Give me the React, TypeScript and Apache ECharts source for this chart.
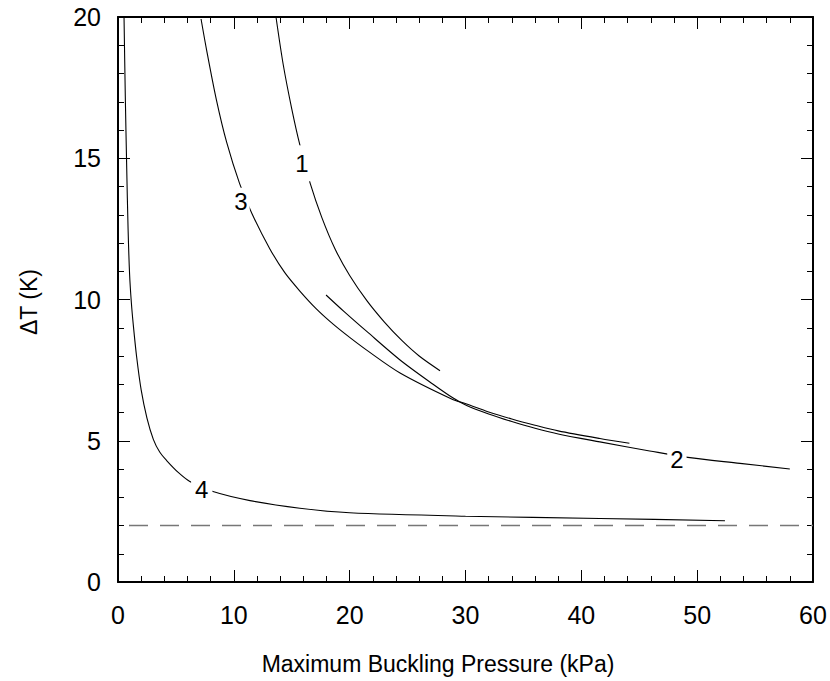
import React, { useEffect, useRef } from "react";
import * as echarts from "echarts";

const xTicks = [0, 10, 20, 30, 40, 50, 60];
const yTicks = [0, 5, 10, 15, 20];

const curve1: number[][] = [
  [13.64, 20], [14.27, 18.3], [15.0, 16.75], [15.7, 15.47], [16.6, 14.1], [17.6, 12.9],
  [18.75, 11.78], [20.0, 10.85], [21.5, 9.95], [23.0, 9.2], [24.5, 8.55], [26.0, 8.0], [27.8, 7.48],
];

const curve2: number[][] = [
  [17.96, 10.16], [19.5, 9.58], [21.5, 8.86], [24.35, 7.86], [27.2, 7.0], [28.9, 6.52],
  [30.1, 6.25], [32.0, 5.95], [34.0, 5.68], [36.0, 5.44], [38.0, 5.24], [41.6, 4.96],
  [45.9, 4.64], [49.2, 4.41], [53.7, 4.2], [58.0, 4.0],
];

const curve3: number[][] = [
  [7.17, 19.93], [7.65, 18.83], [8.5, 17.06], [9.39, 15.55], [10.5, 14.1], [11.55, 13.05],
  [13.1, 11.8], [14.4, 10.95], [15.7, 10.3], [17.1, 9.68], [18.6, 9.12], [20.0, 8.66],
  [21.5, 8.2], [24.35, 7.4], [28.8, 6.48], [30.1, 6.3], [32.0, 6.02], [34.0, 5.77],
  [36.0, 5.55], [38.0, 5.35], [41.6, 5.08], [44.15, 4.91],
];

const curve4: number[][] = [
  [0.52, 20], [0.63, 17.2], [0.75, 14.7], [0.87, 12.5], [1.0, 10.9], [1.15, 9.9],
  [1.32, 9.1], [1.6, 8.0], [2.0, 6.8], [2.5, 5.8], [3.05, 5.05], [3.6, 4.6], [4.2, 4.3],
  [5.2, 3.88], [6.2, 3.56], [8.2, 3.2], [11.4, 2.88], [15.7, 2.61], [20.0, 2.45],
  [30.0, 2.33], [41.6, 2.25], [52.4, 2.17],
];

const limitLine: number[][] = [[0, 2], [60, 2]];

const labelNames = ["1", "2", "3", "4"];
const labelX = [15.87, 48.25, 10.62, 7.23];
const labelY = [14.82, 4.34, 13.46, 3.26];

const FONT = '"Liberation Sans", Arial, Helvetica, sans-serif';

export default function App() {
  const ref = useRef<HTMLDivElement>(null);
  useEffect(() => {
    document.body.style.margin = "0";
    if (!ref.current) return;
    const chart = echarts.init(ref.current, undefined, { renderer: "svg" });

    const axisCommon = (interval: number, min: number, max: number) => ({
      type: "value" as const,
      min,
      max,
      interval,
      axisLine: { show: true, onZero: false, lineStyle: { color: "#000", width: 2 } },
      axisTick: { show: true, inside: true, length: 12, lineStyle: { color: "#000", width: 1 } },
      minorTick: { show: true, splitNumber: 5, length: 6, lineStyle: { color: "#000", width: 1 } },
      splitLine: { show: false },
      minorSplitLine: { show: false },
    });

    const paddings = [[7, 2], [0, 3], [3, 2], [0, 4]];
    const labelData = labelNames.map((n, i) => ({
      value: [labelX[i], labelY[i], n],
      label: { padding: paddings[i] },
    }));

    const lineSeries = (data: number[][]) => ({
      type: "line",
      data,
      showSymbol: false,
      symbol: "none",
      smooth: 0.3,
      lineStyle: { color: "#000", width: 1.1 },
      z: 3,
    });

    chart.setOption({
      animation: false,
      grid: { left: 118, right: 17, top: 17, bottom: 99 },
      xAxis: [
        {
          ...axisCommon(10, 0, 60),
          position: "bottom",
          axisLabel: {
            color: "#000", fontSize: 25, fontFamily: FONT, margin: 20,
            formatter: (v: number) => (xTicks.includes(v) ? String(v) : ""),
          },
        },
        { ...axisCommon(10, 0, 60), position: "top", axisLabel: { show: false } },
      ],
      yAxis: [
        {
          ...axisCommon(5, 0, 20),
          position: "left",
          axisLabel: {
            color: "#000", fontSize: 25, fontFamily: FONT, margin: 17,
            formatter: (v: number) => (yTicks.includes(v) ? String(v) : ""),
          },
        },
        { ...axisCommon(5, 0, 20), position: "right", axisLabel: { show: false } },
      ],
      graphic: [
        {
          type: "text",
          x: 438,
          y: 664,
          style: {
            text: "Maximum Buckling Pressure (kPa)",
            fontSize: 23,
            fontFamily: FONT,
            fill: "#000",
            align: "center",
            verticalAlign: "middle",
          },
        },
        {
          type: "text",
          x: 29,
          y: 302,
          rotation: Math.PI / 2,
          style: {
            text: "ΔT (K)",
            fontSize: 23,
            fontFamily: FONT,
            fill: "#000",
            align: "center",
            verticalAlign: "middle",
          },
        },
      ],
      series: [
        {
          type: "line",
          data: limitLine,
          showSymbol: false,
          symbol: "none",
          lineStyle: { color: "#777", width: 1.5, type: [19, 12], dashOffset: 20 },
          z: 2,
        },
        lineSeries(curve1),
        lineSeries(curve2),
        lineSeries(curve3),
        lineSeries(curve4),
        {
          type: "scatter",
          data: labelData,
          symbolSize: 1,
          itemStyle: { color: "rgba(0,0,0,0)" },
          label: {
            show: true,
            position: "inside",
            formatter: (p: any) => p.value[2],
            fontSize: 24,
            lineHeight: 22,
            fontFamily: FONT,
            color: "#000",
            opacity: 1,
            textBorderWidth: 0,
            textBorderColor: "transparent",
            backgroundColor: "#fff",
          },
          z: 10,
        },
      ],
    });
    return () => chart.dispose();
  }, []);
  return <div ref={ref} style={{ width: 830, height: 681 }} />;
}
